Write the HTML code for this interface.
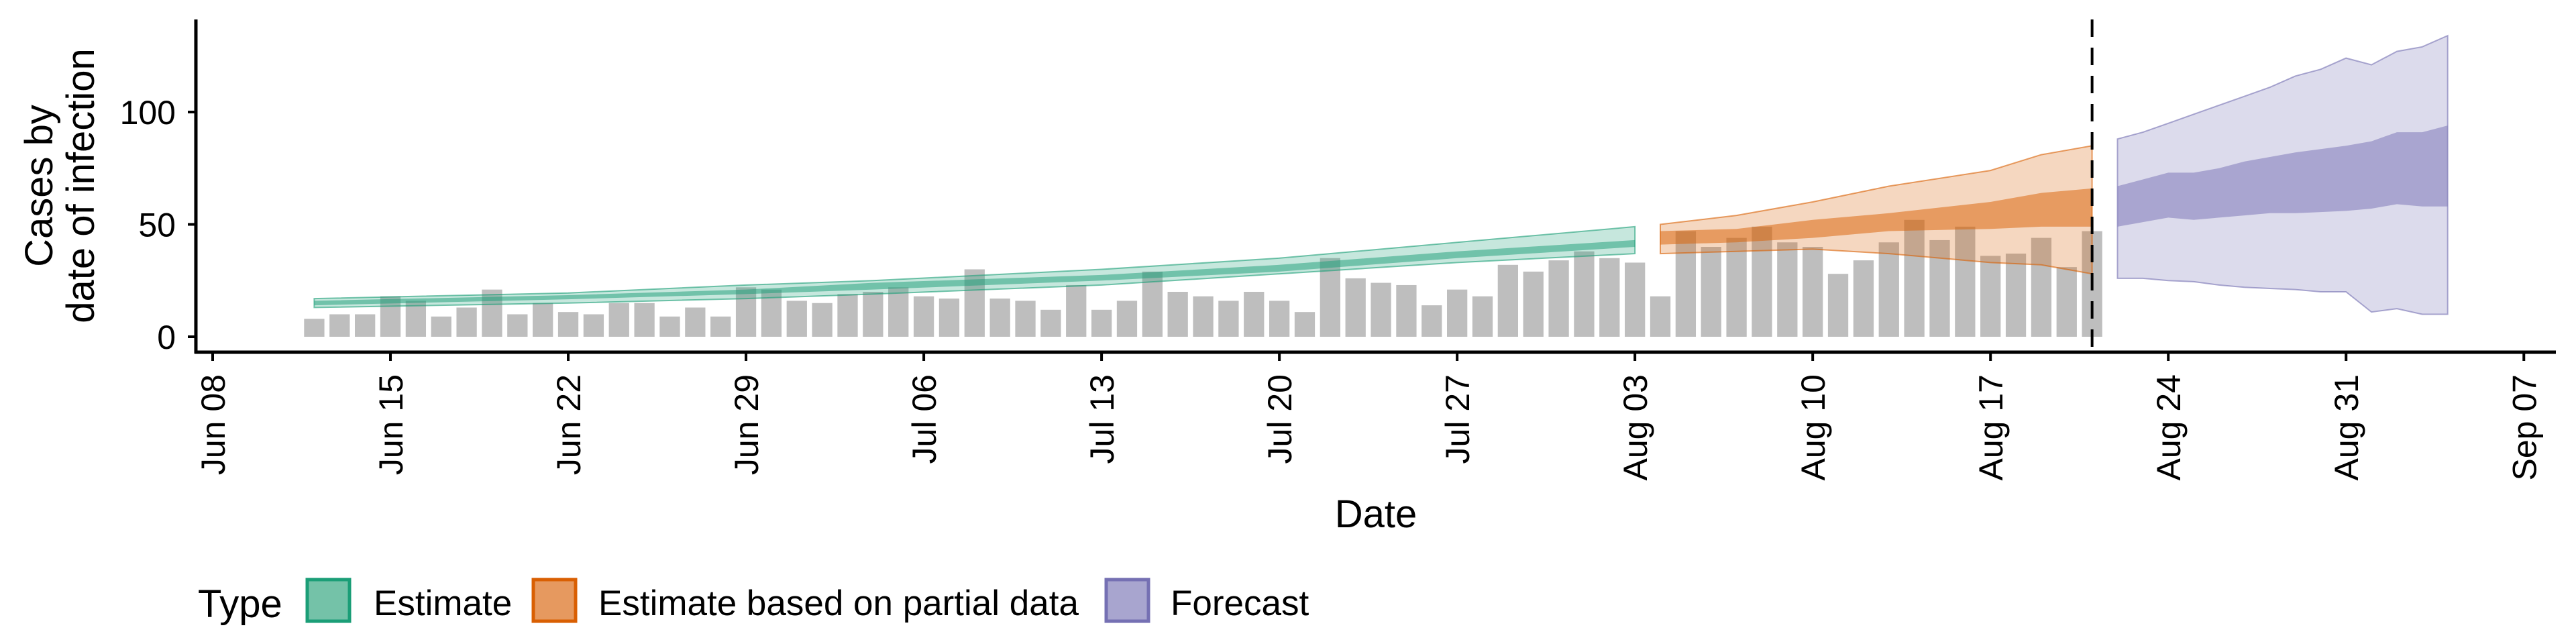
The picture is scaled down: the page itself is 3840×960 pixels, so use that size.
<!DOCTYPE html>
<html><head><meta charset="utf-8">
<style>
html,body{margin:0;padding:0;background:#fff;}
svg{display:block;font-family:"Liberation Sans",Arial,sans-serif;}
</style></head>
<body>
<svg id="chart" width="3840" height="960" viewBox="0 0 3840 960" xmlns="http://www.w3.org/2000/svg">
  <g id="bars"></g>
  <g id="bands"></g>
  <g id="axes"></g>
  <text x="2051" y="786" font-size="58" text-anchor="middle">Date</text>
  <text transform="translate(78,277) rotate(-90)" font-size="58" text-anchor="middle">Cases by</text>
  <text transform="translate(140,277) rotate(-90)" font-size="58" text-anchor="middle">date of infection</text>
  <g>
    <text x="295" y="920" font-size="58">Type</text>
    <rect x="458" y="864" width="63" height="62" fill="#74c2a8" stroke="#1b9e77" stroke-width="5"/>
    <text x="557" y="917" font-size="53">Estimate</text>
    <rect x="795" y="864" width="63" height="62" fill="#e6995f" stroke="#d95f02" stroke-width="5"/>
    <text x="892" y="917" font-size="53">Estimate based on partial data</text>
    <rect x="1649" y="864" width="63" height="62" fill="#a8a5cf" stroke="#7570b3" stroke-width="5"/>
    <text x="1745" y="917" font-size="53">Forecast</text>
  </g>
</svg>
<script>
// ---- data ----
const barStartDate = "2020-06-12";
const barValues = [8,10,10,18,16,9,13,21,10,15,11,10,15,15,9,13,9,22,21,16,15,19,20,22,18,17,30,17,16,12,23,12,16,29,20,18,16,20,16,11,35,26,24,23,14,21,18,32,29,34,38,35,33,18,47,40,44,49,42,40,28,34,42,52,43,49,36,37,44,31,47];

const estDates = ["2020-06-12","2020-06-22","2020-06-29","2020-07-04","2020-07-13","2020-07-20","2020-07-27","2020-08-03"];
const estOuterLo = [13,15,17,19,23,28,33,37];
const estInnerLo = [14,16.7,19,21,25,29,35,40];
const estInnerHi = [16,18.5,21,24,27.5,32,38,43];
const estOuterHi = [17,19.5,23,25,30,35,42,49];

const partDates = ["2020-08-04","2020-08-07","2020-08-10","2020-08-13","2020-08-17","2020-08-19","2020-08-21"];
const partOuterLo = [37,38,39,37,33,32,28];
const partInnerLo = [41,42,44,47,48,49,49];
const partInnerHi = [47,48,52,55,60,64,66];
const partOuterHi = [50,54,60,67,74,81,85];

const fcDates = ["2020-08-22","2020-08-23","2020-08-24","2020-08-25","2020-08-26","2020-08-27","2020-08-28","2020-08-29","2020-08-30","2020-08-31","2020-09-01","2020-09-02","2020-09-03","2020-09-04"];
const fcOuterLo = [26,26,25,24.5,23,22,21.5,21,20,20,11,12.5,10,10];
const fcInnerLo = [49,51,53,52,53,54,55,55,55.5,56,57,59,58,58];
const fcInnerHi = [67,70,73,73,75,78,80,82,83.5,85,87,91,91,94];
const fcOuterHi = [88,91,95,99,103,107,111,116,119,124,121,127,129,134];

const xTickDates = ["2020-06-08","2020-06-15","2020-06-22","2020-06-29","2020-07-06","2020-07-13","2020-07-20","2020-07-27","2020-08-03","2020-08-10","2020-08-17","2020-08-24","2020-08-31","2020-09-07"];
const xTickLabels = ["Jun 08","Jun 15","Jun 22","Jun 29","Jul 06","Jul 13","Jul 20","Jul 27","Aug 03","Aug 10","Aug 17","Aug 24","Aug 31","Sep 07"];
const yTicks = [0,50,100];
const forecastDate = "2020-08-21";

// ---- scales ----
const NS = "http://www.w3.org/2000/svg";
const origin = Date.UTC(2020,5,8);
const PX_DAY = 37.86, X0 = 317, Y0 = 502, PX_UNIT = 3.35;
function dayOf(s){const p=s.split("-");return (Date.UTC(+p[0],+p[1]-1,+p[2])-origin)/86400000;}
function xs(d){return X0 + d*PX_DAY;}
function ys(v){return Y0 - v*PX_UNIT;}
function mk(tag, attrs, parent){const e=document.createElementNS(NS,tag);for(const k in attrs)e.setAttribute(k,attrs[k]);parent.appendChild(e);return e;}

// bars
const barsG = document.getElementById("bars");
const d0 = dayOf(barStartDate);
barValues.forEach((v,i)=>{
  const cx = xs(d0+i), w = PX_DAY*0.8;
  const r = mk("rect",{x:cx-w/2,y:ys(v),width:w,height:ys(0)-ys(v),fill:"#bebebe"},barsG);
  
  
});

// bands
const bandsG = document.getElementById("bands");
function band(dates, lo, hi, color, alpha, stroke, name){
  const top = dates.map((d,i)=>xs(dayOf(d)).toFixed(1)+","+ys(hi[i]).toFixed(1));
  const bot = dates.map((d,i)=>xs(dayOf(d)).toFixed(1)+","+ys(lo[i]).toFixed(1)).reverse();
  const p = mk("polygon",{points:top.concat(bot).join(" "),fill:color,"fill-opacity":alpha,stroke:stroke?color:"none","stroke-opacity":0.6,"stroke-width":2},bandsG);
  
  
}
band(estDates, estOuterLo, estOuterHi, "#1b9e77", 0.25, true, "estimate-outer-band");
band(estDates, estInnerLo, estInnerHi, "#1b9e77", 0.5, false, "estimate-inner-band");
band(partDates, partOuterLo, partOuterHi, "#d95f02", 0.25, true, "partial-outer-band");
band(partDates, partInnerLo, partInnerHi, "#d95f02", 0.5, false, "partial-inner-band");
band(fcDates, fcOuterLo, fcOuterHi, "#7570b3", 0.25, true, "forecast-outer-band");
band(fcDates, fcInnerLo, fcInnerHi, "#7570b3", 0.5, false, "forecast-inner-band");

// axes
const axG = document.getElementById("axes");
const vx = xs(dayOf(forecastDate));
const dl = mk("line",{x1:vx,x2:vx,y1:29,y2:525,stroke:"#000","stroke-width":4,"stroke-dasharray":"26 16"},axG);


const ya = mk("line",{x1:292,x2:292,y1:29,y2:527,stroke:"#000","stroke-width":5},axG);


const xa = mk("line",{x1:290,x2:3810,y1:525,y2:525,stroke:"#000","stroke-width":5},axG);


yTicks.forEach(v=>{
  const t = mk("line",{x1:280,x2:292,y1:ys(v),y2:ys(v),stroke:"#000","stroke-width":4},axG);
  
  
  const l = mk("text",{x:262,y:ys(v)+18,"font-size":50,"text-anchor":"end"},axG);
  l.textContent = String(v);
  
  
});
xTickDates.forEach((d,i)=>{
  const x = xs(dayOf(d));
  const t = mk("line",{x1:x,x2:x,y1:525,y2:538,stroke:"#000","stroke-width":4},axG);
  
  
  const l = mk("text",{transform:"translate("+(x+18)+",558) rotate(-90)","font-size":50,"text-anchor":"end"},axG);
  l.textContent = xTickLabels[i];
  
  
});
</script>
</body></html>
